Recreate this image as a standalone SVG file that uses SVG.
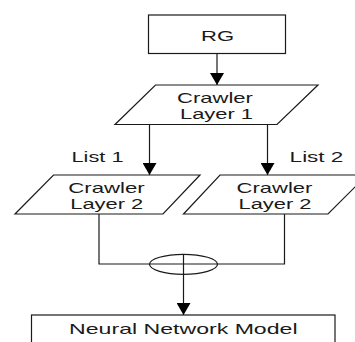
<svg xmlns="http://www.w3.org/2000/svg" width="355" height="342" viewBox="0 0 355 342">
  <style>
    .shape { fill: #ffffff; stroke: #1a1a1a; stroke-width: 1.2; }
    .conn { fill: none; stroke: #1a1a1a; stroke-width: 1.2; }
    .lbl { font-family: "Liberation Sans", Arial, sans-serif; font-size: 15px; fill: #1a1a1a; text-anchor: middle; }
  </style>
  <defs>
    <marker id="arrow" markerUnits="userSpaceOnUse" markerWidth="14" markerHeight="14" refX="12" refY="7" orient="auto">
      <path d="M0,0 L12,7 L0,14 z" fill="#000000"/>
    </marker>
  </defs>
  <rect width="355" height="342" fill="#ffffff"/>

  <g id="connectors">
    <line class="conn" x1="217" y1="53.5" x2="217" y2="85" marker-end="url(#arrow)"/>
    <line class="conn" x1="149.5" y1="124.5" x2="149.5" y2="175" marker-end="url(#arrow)"/>
    <line class="conn" x1="267.5" y1="124.5" x2="267.5" y2="175" marker-end="url(#arrow)"/>
    <polyline class="conn" points="99,214 99,264 284.5,264 284.5,214"/>
    <ellipse class="conn" cx="183.5" cy="264.3" rx="34" ry="10"/>
    <line class="conn" x1="183.5" y1="254.3" x2="183.5" y2="315" marker-end="url(#arrow)"/>
    <text class="lbl" transform="translate(97.5 162) scale(1.45 1)">List 1</text>
    <text class="lbl" transform="translate(316.5 162) scale(1.5 1)">List 2</text>
  </g>

  <g id="rg">
    <rect class="shape" x="148.5" y="15" width="137" height="38.5"/>
    <text class="lbl" transform="translate(217.5 41) scale(1.47 1)">RG</text>
  </g>

  <g id="crawler1">
    <polygon class="shape" points="155.5,85 318,85 277,124.5 115,124.5"/>
    <text class="lbl" transform="translate(215 102.5) scale(1.47 1)">Crawler</text>
    <text class="lbl" transform="translate(216.5 118.5) scale(1.46 1)">Layer 1</text>
  </g>

  <g id="crawler2a">
    <polygon class="shape" points="53.5,175 200,175 163,214 15,214"/>
    <text class="lbl" transform="translate(106.5 192.5) scale(1.48 1)">Crawler</text>
    <text class="lbl" transform="translate(106.7 208.5) scale(1.46 1)">Layer 2</text>
  </g>

  <g id="crawler2b">
    <polygon class="shape" points="220,175 367,175 328,214 183.5,214"/>
    <text class="lbl" transform="translate(274.5 192.5) scale(1.47 1)">Crawler</text>
    <text class="lbl" transform="translate(275 208.5) scale(1.46 1)">Layer 2</text>
  </g>

  <g id="nnm">
    <rect class="shape" x="31.5" y="315" width="303.5" height="40"/>
    <text class="lbl" transform="translate(183.3 333.5) scale(1.54 1)">Neural Network Model</text>
  </g>
</svg>
